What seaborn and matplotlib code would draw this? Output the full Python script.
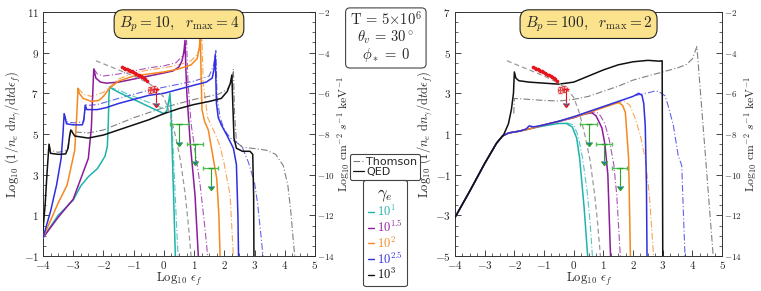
import numpy as np
import pandas as pd
import matplotlib
matplotlib.use("Agg")
import matplotlib.pyplot as plt
import seaborn as sns
from matplotlib.lines import Line2D
from matplotlib.ticker import FuncFormatter

# gamma_e runs
gamma_labels = ["$10^{1}$", "$10^{1.5}$", "$10^{2}$", "$10^{2.5}$", "$10^{3}$"]
gamma_colors = ["#1fb3ab", "#8c1c9c", "#f5891f", "#2f2fe0", "#111111"]

# ---- left panel  (Bp=10, rmax=4) ----
left_qed_1_x = [-4.0, -3.5, -3.0, -2.75, -2.5, -2.2, -1.95, -1.87, -1.84, -1.82, -1.8, -1.5, -1.0, -0.5, 0.0, 0.1, 0.16, 0.2, 0.24, 0.28, 0.33, 0.38]
left_qed_1_y = [-0.1, 1.0, 1.75, 2.45, 2.9, 3.3, 3.9, 4.4, 5.5, 6.8, 7.3, 7.05, 6.7, 6.35, 6.0, 6.15, 6.6, 7.0, 6.0, 4.0, 1.5, -1.0]
left_thom_1_x = [-1.8, -1.5, -1.0, -0.5, 0.0, 0.12, 0.2, 0.25, 0.3, 0.36, 0.42, 0.47]
left_thom_1_y = [7.3, 7.15, 6.85, 6.55, 6.25, 6.4, 6.8, 6.1, 4.5, 2.5, 0.5, -1.0]

left_qed_2_x = [-4.0, -3.5, -3.0, -2.5, -2.4, -2.36, -2.32, -2.25, -2.1, -1.9, -1.5, -1.0, -0.5, 0.0, 0.3, 0.5, 0.6, 0.66, 0.7, 0.72, 0.76, 0.87, 1.03, 1.14]
left_qed_2_y = [-0.1, 0.9, 1.8, 3.8, 5.3, 6.8, 8.2, 7.75, 7.55, 7.5, 7.55, 7.7, 7.85, 8.0, 8.1, 8.3, 8.6, 9.0, 9.6, 8.5, 7.0, 4.6, 2.0, -1.0]
left_thom_2_x = [-2.32, -2.2, -2.0, -1.5, -1.0, -0.5, 0.0, 0.4, 0.6, 0.7, 0.75, 0.8, 0.9, 1.05, 1.2, 1.35, 1.45]
left_thom_2_y = [8.2, 7.95, 7.85, 7.95, 8.1, 8.25, 8.35, 8.5, 8.8, 9.2, 9.6, 7.5, 5.5, 4.0, 2.5, 0.5, -1.0]

left_qed_3_x = [-4.0, -3.5, -3.2, -2.95, -2.88, -2.84, -2.8, -2.67, -2.4, -2.15, -2.0, -1.8, -1.5, -1.0, -0.5, 0.0, 0.5, 0.9, 1.1, 1.17, 1.21, 1.23, 1.26, 1.35, 1.47, 1.6, 1.75, 1.82, 1.86]
left_qed_3_y = [-0.1, 1.6, 2.5, 4.2, 6.0, 7.25, 7.0, 6.75, 6.6, 6.65, 6.85, 7.25, 7.6, 7.85, 7.95, 8.05, 8.2, 8.4, 8.7, 9.2, 9.8, 8.0, 6.2, 5.6, 5.2, 4.1, 2.8, 1.0, -1.0]
left_thom_3_x = [-2.84, -2.65, -2.4, -2.0, -1.5, -1.0, -0.5, 0.0, 0.5, 0.9, 1.1, 1.2, 1.26, 1.3, 1.45, 1.7, 1.86, 2.0, 2.19, 2.3]
left_thom_3_y = [7.25, 6.95, 6.85, 7.05, 7.7, 8.0, 8.15, 8.25, 8.4, 8.6, 8.9, 9.3, 9.8, 7.5, 5.8, 5.0, 4.4, 3.5, 2.0, -1.0]

left_qed_4_x = [-4.0, -3.75, -3.55, -3.4, -3.34, -3.3, -3.22, -3.0, -2.7, -2.65, -2.6, -2.55, -2.2, -1.9, -1.5, -1.0, -0.5, 0.0, 0.5, 1.0, 1.4, 1.6, 1.66, 1.7, 1.74, 1.8, 1.9, 2.1, 2.3, 2.4, 2.45, 2.47]
left_qed_4_y = [-0.1, 1.2, 2.5, 3.8, 5.0, 6.0, 5.5, 5.45, 5.45, 5.7, 6.4, 6.2, 6.2, 6.3, 6.5, 6.7, 6.9, 7.0, 7.2, 7.4, 7.55, 7.75, 8.2, 8.9, 6.5, 5.8, 5.45, 4.9, 4.3, 3.5, 1.0, -1.0]
left_thom_4_x = [-3.3, -3.22, -3.0, -2.65, -2.6, -2.55, -2.2, -1.5, -1.0, -0.5, 0.0, 0.5, 1.0, 1.5, 1.65, 1.72, 1.76, 1.86, 2.0, 2.2, 2.58, 2.8, 3.0, 3.1, 3.2, 3.28]
left_thom_4_y = [6.0, 5.6, 5.55, 5.6, 6.5, 6.4, 6.45, 6.75, 6.95, 7.15, 7.3, 7.45, 7.6, 7.85, 8.4, 9.1, 6.8, 5.8, 5.2, 4.8, 4.4, 3.6, 2.6, 1.6, 0.2, -1.0]

left_qed_5_x = [-4.0, -3.93, -3.87, -3.82, -3.8, -3.75, -3.5, -3.25, -3.17, -3.12, -3.08, -2.95, -2.5, -2.0, -1.5, -1.0, -0.5, 0.0, 0.5, 1.0, 1.5, 1.9, 2.1, 2.2, 2.25, 2.28, 2.32, 2.4, 2.6, 2.85, 2.94, 2.97, 2.98]
left_qed_5_y = [0.3, 1.5, 3.0, 4.1, 4.5, 4.05, 4.0, 4.02, 4.3, 4.9, 5.2, 4.9, 4.8, 4.95, 5.2, 5.45, 5.7, 6.0, 6.25, 6.45, 6.6, 6.75, 7.1, 7.5, 7.9, 6.5, 4.8, 4.3, 4.15, 4.15, 4.0, 2.0, -1.0]
left_thom_5_x = [-3.8, -3.75, -3.5, -3.2, -3.15, -3.08, -2.95, -2.5, -2.0, -1.0, 0.0, 1.0, 1.8, 2.1, 2.25, 2.3, 2.34, 2.4, 2.6, 3.08, 3.4, 3.7, 3.95, 4.1, 4.2, 4.28, 4.33]
left_thom_5_y = [4.5, 4.2, 4.1, 4.2, 4.6, 5.2, 5.1, 5.05, 5.2, 5.8, 6.3, 6.7, 6.95, 7.2, 7.6, 8.2, 6.0, 4.6, 4.35, 4.27, 4.2, 4.0, 3.45, 2.5, 1.2, -0.2, -1.0]

# ---- right panel (Bp=100, rmax=2) ----
right_rise_x = [-4.0, -3.5, -3.0, -2.6, -2.4, -2.2, -2.0, -1.8]
right_rise_y = [-3.1, -1.8, -0.45, 0.55, 0.9, 1.05, 1.1, 1.15]

right_qed_1_x = [-1.5, -1.0, -0.5, -0.25, -0.05, 0.1, 0.2, 0.35, 0.47]
right_qed_1_y = [1.25, 1.4, 1.52, 1.52, 1.35, 0.8, -0.2, -2.6, -5.0]
right_thom_1_x = [-0.25, 0.0, 0.15, 0.3, 0.45, 0.55, 0.63]
right_thom_1_y = [1.55, 1.45, 0.9, -0.2, -1.8, -3.3, -5.0]

right_qed_2_x = [-1.5, -1.0, -0.5, 0.0, 0.3, 0.6, 0.75, 0.95, 1.05, 1.15, 1.24]
right_qed_2_y = [1.25, 1.45, 1.62, 1.8, 1.95, 2.05, 1.9, 1.3, 0.5, -1.0, -5.0]
right_thom_2_x = [0.5, 0.75, 0.9, 1.05, 1.2, 1.35, 1.45, 1.57]
right_thom_2_y = [2.02, 2.1, 1.9, 1.5, 0.7, -0.5, -2.0, -5.0]

right_qed_3_x = [-1.5, -1.0, -0.5, 0.0, 0.5, 1.0, 1.52, 1.65, 1.74, 1.85, 1.91]
right_qed_3_y = [1.25, 1.45, 1.62, 1.82, 2.05, 2.3, 2.55, 2.4, 2.06, -0.2, -5.0]
right_thom_3_x = [1.4, 1.7, 1.9, 2.08, 2.25, 2.41, 2.55, 2.69]
right_thom_3_y = [2.5, 2.62, 2.4, 1.73, 0.9, -0.2, -2.0, -5.0]

right_qed_4_x = [-1.6, -1.5, -1.35, -1.0, -0.5, 0.0, 0.5, 1.0, 1.5, 2.0, 2.19, 2.3, 2.36, 2.41, 2.45, 2.47]
right_qed_4_y = [1.25, 1.4, 1.35, 1.45, 1.63, 1.85, 2.1, 2.35, 2.6, 2.85, 3.0, 2.9, 2.5, 1.4, -1.5, -5.0]
right_thom_4_x = [2.1, 2.52, 2.7, 2.86, 3.08, 3.2, 3.36, 3.52, 3.64, 3.69, 3.75]
right_thom_4_y = [2.9, 3.03, 3.1, 3.1, 2.87, 2.3, 1.4, -0.06, -0.55, -2.66, -5.0]

right_qed_5_x = [-2.35, -2.2, -2.1, -2.03, -2.0, -1.95, -1.85, -1.5, -1.0, -0.5, 0.0, 0.5, 1.0, 1.5, 2.0, 2.5, 2.9, 2.98, 2.99, 3.0]
right_qed_5_y = [1.0, 1.5, 2.2, 3.0, 4.05, 3.75, 3.62, 3.55, 3.5, 3.45, 3.55, 3.85, 4.15, 4.4, 4.55, 4.62, 4.58, 4.6, 0.0, -5.0]
right_thom_5_x = [-2.02, -2.0, -1.5, -1.0, -0.5, 0.0, 0.5, 1.0, 1.5, 2.0, 2.5, 3.0, 3.5, 3.8, 4.0, 4.15, 4.3, 4.45, 4.7]
right_thom_5_y = [2.0, 2.75, 2.7, 2.65, 2.62, 2.7, 2.85, 3.1, 3.35, 3.65, 3.85, 4.05, 4.25, 4.42, 4.7, 5.3, 2.5, -0.3, -5.0]

# ---- observations (flux units, right-hand axis) ----
model_x = [-2.25, -1.5, -1.0, -0.5, -0.2, 0.0, 0.2, 0.4, 0.55, 0.7, 0.8, 0.9]
model_f = [-4.4, -4.85, -5.15, -5.5, -5.85, -6.2, -7.0, -8.2, -9.3, -10.9, -12.3, -14.0]

obs_x = [-1.38, -1.32, -1.27, -1.22, -1.17, -1.12, -1.07, -1.02, -0.97, -0.92, -0.87, -0.82, -0.77, -0.72, -0.67, -0.62, -0.57]
obs_f = [-4.72, -4.78, -4.80, -4.79, -4.86, -4.90, -4.89, -4.95, -4.99, -5.03, -5.08, -5.12, -5.17, -5.22, -5.27, -5.32, -5.40]

cross_x = [-0.45, -0.32]
cross_f = [-5.85, -5.8]
red_lim_x = [-0.27]
red_lim_f = [-5.8]
red_lim_drop = [0.7]

lim_x = [0.5, 1.03, 1.55]
lim_xerr = [0.3, 0.27, 0.25]
lim_f = [-7.5, -8.5, -9.65]
lim_drop = [0.9, 0.85, 0.9]

panels = [
    dict(title=r"$B_p = 10,\ \ r_{\rm max} = 4$", ylim=(-1, 11),
         qed=[(left_qed_1_x, left_qed_1_y), (left_qed_2_x, left_qed_2_y), (left_qed_3_x, left_qed_3_y),
              (left_qed_4_x, left_qed_4_y), (left_qed_5_x, left_qed_5_y)],
         thom=[(left_thom_1_x, left_thom_1_y), (left_thom_2_x, left_thom_2_y), (left_thom_3_x, left_thom_3_y),
               (left_thom_4_x, left_thom_4_y), (left_thom_5_x, left_thom_5_y)]),
    dict(title=r"$B_p = 100,\ \ r_{\rm max} = 2$", ylim=(-5, 7),
         qed=[(right_qed_1_x, right_qed_1_y), (right_qed_2_x, right_qed_2_y), (right_qed_3_x, right_qed_3_y),
              (right_qed_4_x, right_qed_4_y), (right_qed_5_x, right_qed_5_y)],
         thom=[(right_thom_1_x, right_thom_1_y), (right_thom_2_x, right_thom_2_y), (right_thom_3_x, right_thom_3_y),
               (right_thom_4_x, right_thom_4_y), (right_thom_5_x, right_thom_5_y)]),
]

sns.set_style("ticks")
plt.rcParams["mathtext.fontset"] = "cm"
plt.rcParams["font.family"] = ["DejaVu Sans"]
plt.rcParams["xtick.direction"] = "in"
plt.rcParams["ytick.direction"] = "in"

DASHDOT = (0, (6, 2, 1, 2))
math_fmt = FuncFormatter(lambda v, p: r"$%d$" % round(v))


def line(ax, x, y, color, ls="-", lw=1.1, alpha=1.0, z=2):
    sns.lineplot(x=x, y=y, ax=ax, color=color, linestyle=ls, linewidth=lw, alpha=alpha,
                 estimator=None, sort=False, legend=False, zorder=z)


fig = plt.figure(figsize=(7.61, 2.91), dpi=100)
positions = [[0.0565, 0.1200, 0.3574, 0.8390], [0.5979, 0.1200, 0.3510, 0.8390]]

for i, (pan, pos) in enumerate(zip(panels, positions)):
    ax = fig.add_axes(pos)
    for k in range(5):
        tx, ty = pan["thom"][k]
        c = "#555555" if k == 4 else gamma_colors[k]
        line(ax, tx, ty, c, ls=DASHDOT, lw=0.8, alpha=0.75, z=2)
    for k in range(5):
        qx, qy = pan["qed"][k]
        if i == 1:
            pre = [j for j, v in enumerate(right_rise_x) if v < qx[0]]
            qx = [right_rise_x[j] for j in pre] + qx
            qy = [right_rise_y[j] for j in pre] + qy
        line(ax, qx, qy, gamma_colors[k], lw=1.1, z=3)

    ax.set_xlim(-4, 5)
    ax.set_ylim(*pan["ylim"])
    ax.set_xticks(np.arange(-4, 6, 1))
    ax.set_xticks(np.arange(-4, 5.01, 0.25), minor=True)
    lo, hi = pan["ylim"]
    ax.set_yticks(np.arange(lo, hi + 0.1, 2))
    ax.set_yticks(np.arange(lo, hi + 0.1, 0.5), minor=True)
    ax.xaxis.set_major_formatter(math_fmt)
    ax.yaxis.set_major_formatter(math_fmt)
    ax.tick_params(labelsize=8, length=4, width=0.6, pad=3)
    ax.tick_params(axis="x", pad=2)
    ax.tick_params(which="minor", length=2, width=0.5)
    for s in ax.spines.values():
        s.set_linewidth(0.7)
        s.set_color("#333333")
    ax.set_xlabel(r"$\mathrm{Log}_{10}\ \epsilon_f$", fontsize=9, labelpad=0)
    ax.set_ylabel(r"$\mathrm{Log}_{10}\ (1/n_e\ \mathrm{d}n_\gamma/\mathrm{d}t\mathrm{d}\epsilon_f)$",
                  fontsize=9, labelpad=1)

    ax2 = ax.twinx()
    ax2.set_ylim(-14, -2)
    ax2.set_yticks(np.arange(-14, -1.9, 2))
    ax2.set_yticks(np.arange(-14, -1.9, 0.5), minor=True)
    ax2.yaxis.set_major_formatter(FuncFormatter(lambda v, p: r"$%d$" % round(v)))
    ax2.tick_params(labelsize=6.5, length=4, width=0.6, pad=1.5, direction="in")
    ax2.tick_params(which="minor", length=2, width=0.5, direction="in")
    ax2.set_ylabel(r"$\mathrm{Log}_{10}\ \mathrm{cm}^{-2}\ s^{-1}\ \mathrm{keV}^{-1}$", fontsize=8.5, labelpad=0)
    for s in ax2.spines.values():
        s.set_visible(False)

    line(ax2, model_x, model_f, "#9a9a9a", ls=(0, (4, 2.5)), lw=0.9, z=2)
    ax2.errorbar(obs_x, obs_f, yerr=0.05, fmt="o", ms=1.6, color="#e8141b", ecolor="#e8141b",
                 elinewidth=0.6, capsize=0, zorder=5)
    ax2.errorbar(cross_x, cross_f, xerr=0.09, yerr=0.15, fmt="none", ecolor="#e24848",
                 elinewidth=0.9, capsize=1.5, zorder=5)
    ax2.errorbar(red_lim_x, red_lim_f, yerr=red_lim_drop, uplims=True, fmt="none", ecolor="#e8141b",
                 elinewidth=0.8, capsize=2, zorder=5)
    ax2.errorbar(lim_x, lim_f, xerr=lim_xerr, fmt="none", ecolor="#4cbf4c", elinewidth=0.9,
                 capsize=1.5, zorder=5)
    ax2.errorbar(lim_x, lim_f, yerr=lim_drop, uplims=True, fmt="none", ecolor="#2aa52a",
                 elinewidth=0.8, capsize=2, zorder=5)

    ax.text(0.5, 0.950, pan["title"], transform=ax.transAxes, ha="center", va="center", fontsize=11,
            zorder=10, bbox=dict(boxstyle="round,pad=0.3,rounding_size=0.6", fc="#fbe38e", ec="#222222", lw=0.8))

fig.text(0.507, 0.873, "$\\mathrm{T}\\,=\\,5{\\times}10^6$\n$\\theta_v\\,=\\,30^\\circ$\n$\\phi_*\\,=\\,0$",
         ha="center", va="center", ma="center", fontsize=10.5, linespacing=1.0,
         bbox=dict(boxstyle="round,pad=0.3,rounding_size=0.3", fc="white", ec="#444444", lw=0.8))

h1 = [Line2D([], [], color="#777777", lw=0.8, linestyle=DASHDOT), Line2D([], [], color="#111111", lw=0.9)]
leg1 = fig.legend(h1, ["Thomson", "QED"], loc="center", bbox_to_anchor=(0.506, 0.426), fontsize=8,
                  handlelength=1.0, handletextpad=0.25, borderpad=0.25, labelspacing=0.05, frameon=True,
                  fancybox=True, edgecolor="#444444", framealpha=1, borderaxespad=0)
leg1.get_frame().set_linewidth(0.8)

h2 = [Line2D([], [], color=c, lw=1.0) for c in gamma_colors]
leg2 = fig.legend(h2, gamma_labels, loc="center", bbox_to_anchor=(0.506, 0.199), fontsize=9,
                  title=r"$\gamma_e$", title_fontsize=12, labelcolor=gamma_colors,
                  handlelength=0.5, handletextpad=0.2, borderpad=0.35, labelspacing=0.02, frameon=True,
                  fancybox=True, edgecolor="#444444", framealpha=1, borderaxespad=0)
leg2.get_frame().set_linewidth(0.8)

fig.savefig("out.png", dpi=100)
